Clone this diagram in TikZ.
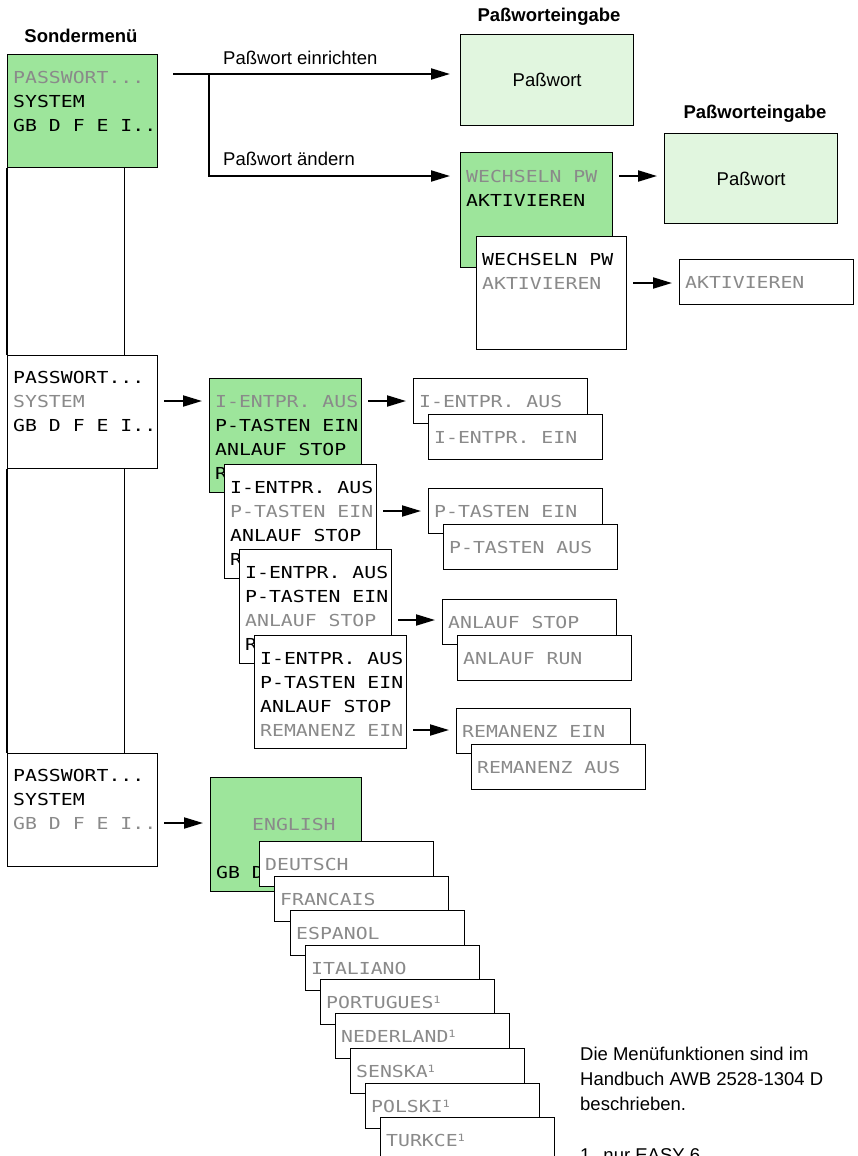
\documentclass[tikz,border=0pt]{standalone}
\usepackage{fontspec}
\setmainfont{Liberation Sans}
\newfontfamily\lcdfont[FakeStretch=1.2]{DejaVu Sans Mono}
\usetikzlibrary{arrows.meta}
\definecolor{lcdgreen}{HTML}{9DE59B}
\definecolor{pwgreen}{HTML}{E1F6DF}
\definecolor{lcdgray}{HTML}{8A8A8A}
\tikzset{
  frame/.style={draw=black, line width=1.3pt},
  menubox/.style={frame, fill=white, anchor=north west, inner sep=0pt, minimum width=151pt, minimum height=114pt},
  greenbox/.style={menubox, fill=lcdgreen},
  optbox/.style={frame, fill=white, anchor=north west, inner sep=0pt, minimum width=174pt, minimum height=45pt},
  pwbox/.style={frame, fill=pwgreen, anchor=north west, inner sep=0pt, minimum width=173pt, minimum height=91pt, font=\fontsize{18.5}{22}\selectfont},
  lcd/.style={anchor=base west, inner sep=0pt, font=\lcdfont\fontsize{16.5}{20}\selectfont, text height=12pt, text depth=0pt},
  on/.style={lcd, text=black},
  off/.style={lcd, text=lcdgray},
  lbl/.style={anchor=base west, inner sep=0pt, font=\fontsize{18.5}{22}\selectfont},
  ttl/.style={anchor=base, inner sep=0pt, font=\bfseries\fontsize{18.5}{22}\selectfont},
  arr/.style={line width=2pt, -{Triangle[length=19pt,width=11pt]}, shorten <=6pt, shorten >=7pt},
}
\newcommand\lcdline[5]{\node[#4] (#1) at ([xshift=6pt,yshift=-#3pt]#2.north west) {#5};}
\newcommand\supone{\raisebox{5pt}{\fontsize{10}{10}\selectfont 1}}
\begin{document}
\begin{tikzpicture}[x=1pt,y=-1pt]
\useasboundingbox (0,0) rectangle (858,1156);

% titles
\node[ttl] (t0) at (81,43) {Sondermenü};
\node[ttl] (t1) at (549,22) {Paßworteingabe};
\node[ttl] (t2) at (755,118) {Paßworteingabe};

% left column
\node[greenbox, minimum width=150pt, minimum height=113pt] (a1) at (7,54) {};
\lcdline{a1t1}{a1}{29}{off}{PASSWORT...}
\lcdline{a1t2}{a1}{53}{on}{SYSTEM}
\lcdline{a1t3}{a1}{77}{on}{GB D F E I..}

\node[menubox, minimum width=150pt, minimum height=113pt] (a2) at (7,355) {};
\lcdline{a2t1}{a2}{28}{on}{PASSWORT...}
\lcdline{a2t2}{a2}{52}{off}{SYSTEM}
\lcdline{a2t3}{a2}{76}{on}{GB D F E I..}

\node[menubox, minimum width=150pt, minimum height=113pt] (a3) at (7,753) {};
\lcdline{a3t1}{a3}{28}{on}{PASSWORT...}
\lcdline{a3t2}{a3}{52}{on}{SYSTEM}
\lcdline{a3t3}{a3}{76}{off}{GB D F E I..}

\draw[frame] (a1.south west) -- (a2.north west);
\draw[frame] ([xshift=-34pt]a1.south east) -- ([xshift=-34pt]a2.north east);
\draw[frame] (a2.south west) -- (a3.north west);
\draw[frame] ([xshift=-34pt]a2.south east) -- ([xshift=-34pt]a3.north east);

% password branch
\node[pwbox] (pw1) at (460,34) {Paßwort};
\node[pwbox, minimum height=90pt] (pw2) at (664,133) {Paßwort};

\node[greenbox, minimum width=152pt, minimum height=115pt] (wg) at (460,152) {};
\lcdline{wgt1}{wg}{30}{off}{WECHSELN PW}
\lcdline{wgt2}{wg}{54}{on}{AKTIVIEREN}
\node[menubox, minimum width=150pt, minimum height=113pt] (ww) at (476,236) {};
\lcdline{wwt1}{ww}{29}{on}{WECHSELN PW}
\lcdline{wwt2}{ww}{53}{off}{AKTIVIEREN}
\node[optbox] (akt) at (679,259) {};
\lcdline{aktt}{akt}{29}{off}{AKTIVIEREN}

\coordinate (s0) at (173,74);
\coordinate (s1) at (209,74);
\draw[arr, shorten <=0pt, shorten >=10pt] (s0) -- (s0 -| pw1.west);
\draw[arr, shorten <=0pt, shorten >=10pt] (s1) |- (wg.west |- wgt1);
\node[lbl] (lb1) at (223,64) {Paßwort einrichten};
\node[lbl] (lb2) at (223,165) {Paßwort ändern};
\draw[arr] (wg.east |- wgt1) -- (pw2.west |- wgt1);
\draw[arr] (ww.east |- wwt2) -- (akt.west |- wwt2);

% system branch
\node[greenbox, minimum width=152pt] (m1) at (209,378) {};
\lcdline{m1t1}{m1}{29}{off}{I-ENTPR. AUS}
\lcdline{m1t2}{m1}{53}{on}{P-TASTEN EIN}
\lcdline{m1t3}{m1}{77}{on}{ANLAUF STOP}
\lcdline{m1t4}{m1}{101}{on}{REMANENZ EIN}
\node[menubox, minimum width=152pt] (m2) at (224,464) {};
\lcdline{m2t1}{m2}{29}{on}{I-ENTPR. AUS}
\lcdline{m2t2}{m2}{53}{off}{P-TASTEN EIN}
\lcdline{m2t3}{m2}{77}{on}{ANLAUF STOP}
\lcdline{m2t4}{m2}{101}{on}{REMANENZ EIN}
\node[menubox, minimum width=152pt] (m3) at (239,549) {};
\lcdline{m3t1}{m3}{29}{on}{I-ENTPR. AUS}
\lcdline{m3t2}{m3}{53}{on}{P-TASTEN EIN}
\lcdline{m3t3}{m3}{77}{off}{ANLAUF STOP}
\lcdline{m3t4}{m3}{101}{on}{REMANENZ EIN}
\node[menubox, minimum width=152pt, minimum height=113pt] (m4) at (254,635) {};
\lcdline{m4t1}{m4}{29}{on}{I-ENTPR. AUS}
\lcdline{m4t2}{m4}{53}{on}{P-TASTEN EIN}
\lcdline{m4t3}{m4}{77}{on}{ANLAUF STOP}
\lcdline{m4t4}{m4}{101}{off}{REMANENZ EIN}

\node[optbox] (o1a) at (413,378) {};
\lcdline{o1at}{o1a}{29}{off}{I-ENTPR. AUS}
\node[optbox] (o1b) at (428,414) {};
\lcdline{o1bt}{o1b}{29}{off}{I-ENTPR. EIN}
\node[optbox] (o2a) at (428,488) {};
\lcdline{o2at}{o2a}{29}{off}{P-TASTEN EIN}
\node[optbox] (o2b) at (443,524) {};
\lcdline{o2bt}{o2b}{29}{off}{P-TASTEN AUS}
\node[optbox] (o3a) at (442,599) {};
\lcdline{o3at}{o3a}{29}{off}{ANLAUF STOP}
\node[optbox] (o3b) at (457,635) {};
\lcdline{o3bt}{o3b}{29}{off}{ANLAUF RUN}
\node[optbox] (o4a) at (456,708) {};
\lcdline{o4at}{o4a}{29}{off}{REMANENZ EIN}
\node[optbox] (o4b) at (471,744) {};
\lcdline{o4bt}{o4b}{29}{off}{REMANENZ AUS}

\draw[arr] (a2.east |- a2t2) -- (m1.west |- a2t2);
\draw[arr] (m1.east |- m1t1) -- (o1a.west |- m1t1);
\draw[arr] (m2.east |- m2t2) -- (o2a.west |- m2t2);
\draw[arr] (m3.east |- m3t3) -- (o3a.west |- m3t3);
\draw[arr] (m4.east |- m4t4) -- (o4a.west |- m4t4);

% language branch
\node[greenbox, minimum height=114pt] (lg) at (210,777) {};
\node[off] (lgt2) at ([xshift=42pt,yshift=-53pt]lg.north west) {ENGLISH};
\lcdline{lgt4}{lg}{101}{on}{GB D F E I..}
\draw[arr] (a3.east |- a3t3) -- (lg.west |- a3t3);

\node[optbox] (l1) at (259,841) {};
\lcdline{l1t}{l1}{29}{off}{DEUTSCH}
\node[optbox] (l2) at (274,876) {};
\lcdline{l2t}{l2}{29}{off}{FRANCAIS}
\node[optbox] (l3) at (290,910) {};
\lcdline{l3t}{l3}{29}{off}{ESPANOL}
\node[optbox] (l4) at (305,945) {};
\lcdline{l4t}{l4}{29}{off}{ITALIANO}
\node[optbox] (l5) at (320,979) {};
\lcdline{l5t}{l5}{29}{off}{PORTUGUES\supone}
\node[optbox] (l6) at (335,1013) {};
\lcdline{l6t}{l6}{29}{off}{NEDERLAND\supone}
\node[optbox] (l7) at (350,1048) {};
\lcdline{l7t}{l7}{29}{off}{SENSKA\supone}
\node[optbox] (l8) at (365,1083) {};
\lcdline{l8t}{l8}{29}{off}{POLSKI\supone}
\node[optbox] (l9) at (380,1117) {};
\lcdline{l9t}{l9}{29}{off}{TURKCE\supone}

% notes
\node[lbl] (n1) at (580,1060) {Die Menüfunktionen sind im};
\node[lbl] (n2) at (580,1085) {Handbuch AWB 2528-1304 D};
\node[lbl] (n3) at (580,1110) {beschrieben.};
\node[lbl] (n4) at (580,1161) {1\hspace{13pt}nur EASY 6};
\end{tikzpicture}
\end{document}
